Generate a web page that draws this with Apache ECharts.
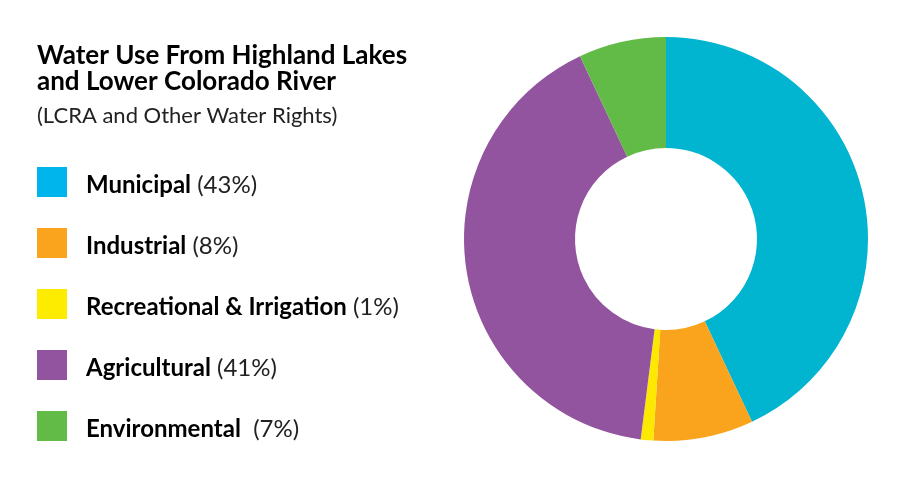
<!DOCTYPE html>
<html>
<head>
<meta charset="utf-8">
<script src="https://cdn.jsdelivr.net/npm/echarts@6/dist/echarts.min.js"></script>
<style>
  html, body { margin: 0; padding: 0; background: #ffffff; }
  #pie1 { width: 906px; height: 479px; }
</style>
</head>
<body>
<div id="pie1"></div>
<script>
let categories = ['Municipal', 'Industrial', 'Recreational & Irrigation', 'Agricultural', 'Environmental'];
let values = [43, 8, 1, 41, 7];
let pctLabels = [' (43%)', ' (8%)', ' (1%)', ' (41%)', '  (7%)'];
let sliceColors = ['#01b4d0', '#f9a41c', '#fde800', '#92549f', '#62bb46'];
let iconColors = ['#00b4ec', '#f9a41c', '#fdec00', '#92549f', '#62bb46'];

function echarts_pie() {
  let myChart = echarts.init(document.getElementById("pie1"));
  var option;
  let pieData = [];
  let legendData = [];
  for (let i = 0; i < categories.length; i++) {
    pieData.push({ name: categories[i], value: values[i], itemStyle: { color: sliceColors[i] } });
    legendData.push({ name: categories[i], itemStyle: { color: iconColors[i] } });
  }

  option = {
    animation: false,
    title: {
      left: 37,
      top: 43,
      padding: 0,
      text: 'Water Use From Highland Lakes\nand Lower Colorado River',
      subtext: '(LCRA and Other Water Rights)',
      itemGap: 9,
      textStyle: {
        color: '#000000',
        fontFamily: 'Lato',
        fontWeight: 'bold',
        fontSize: 26,
        lineHeight: 26
      },
      subtextStyle: {
        color: '#222222',
        fontFamily: 'Lato',
        fontSize: 22,
        lineHeight: 24
      }
    },
    legend: {
      orient: 'vertical',
      left: 37,
      top: 167,
      padding: 0,
      itemWidth: 30,
      itemHeight: 30,
      itemGap: 31,
      icon: 'rect',
      selectedMode: false,
      data: legendData,
      formatter: function (name) {
        let i = categories.indexOf(name);
        return '{b|' + name + '}{n|' + pctLabels[i] + '}';
      },
      textStyle: {
        padding: [6, 0, 0, 14],
        rich: {
          b: { fontFamily: 'Lato', fontWeight: 'bold', fontSize: 24, color: '#000000' },
          n: { fontFamily: 'Lato', fontSize: 24, color: '#222222' }
        }
      }
    },
    series: [{
      type: 'pie',
      center: [666, 239],
      radius: [91, 202],
      startAngle: 90,
      clockwise: true,
      label: { show: false },
      labelLine: { show: false },
      emphasis: { disabled: true },
      data: pieData
    }]
  };

  myChart.setOption(option);
  window.addEventListener("resize", function () {
    myChart.resize();
  });
}
echarts_pie();
</script>
</body>
</html>
